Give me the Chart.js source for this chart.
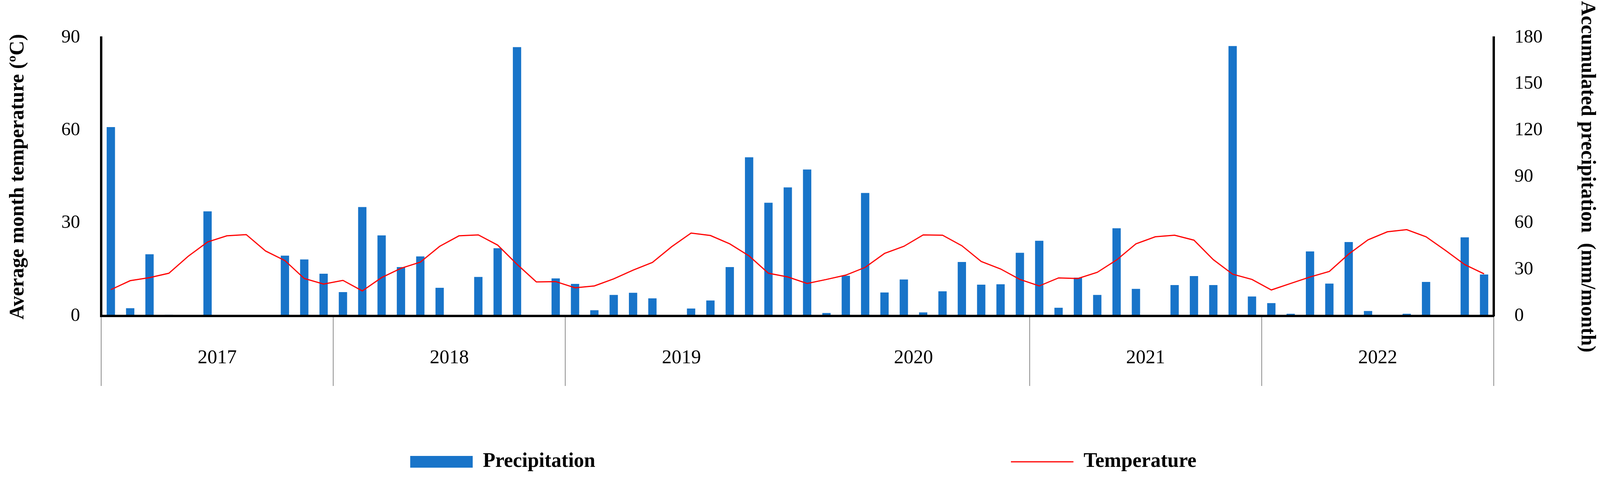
<!DOCTYPE html>
<html lang="en">
<head>
<meta charset="UTF-8">
<title>Monthly temperature and precipitation 2017-2022</title>
<script src="https://cdn.jsdelivr.net/npm/chart.js"></script>
<style>
  body { margin: 0; background: #fff; }
  #wrap { width: 4113px; height: 1248px; position: relative; }
</style>
</head>
<body>
<div id="wrap"><canvas id="climateChart"></canvas></div>
<script>
// categories
const years = ['2017', '2018', '2019', '2020', '2021', '2022'];
const months = ['Jan', 'Feb', 'Mar', 'Apr', 'May', 'Jun', 'Jul', 'Aug', 'Sep', 'Oct', 'Nov', 'Dec'];

// accumulated precipitation (mm/month), Jan 2017 .. Dec 2022
const precipitation = [
  122.1, 5.0, 39.9, 0.8, 0, 67.6, 0, 0.5, 0, 39.0, 36.5, 27.3,
  15.4, 70.4, 52.1, 31.6, 38.5, 18.2, 0, 25.2, 43.8, 173.8, 0, 24.3,
  20.7, 3.7, 13.6, 15.0, 11.4, 0, 4.8, 10.0, 31.6, 102.6, 73.2, 83.1,
  94.7, 1.9, 26.0, 79.5, 15.2, 23.6, 2.3, 15.9, 34.9, 20.2, 20.5, 40.8,
  48.6, 5.3, 24.8, 13.6, 56.7, 17.5, 0, 20.0, 25.8, 20.0, 174.5, 12.6,
  8.3, 1.4, 41.7, 20.9, 47.8, 3.2, 0.5, 1.4, 22.0, 0, 50.8, 26.8
];

// average month temperature (ºC)
const temperature = [
  8.5, 11.4, 12.4, 13.8, 19.3, 23.9, 25.9, 26.3, 21.0, 17.9, 12.1, 10.3,
  11.5, 8.1, 12.4, 15.4, 17.4, 22.5, 25.9, 26.2, 22.9, 16.7, 11.0, 11.1,
  9.1, 9.7, 12.0, 14.8, 17.3, 22.4, 26.8, 26.0, 23.3, 19.4, 13.8, 12.6,
  10.5, 11.8, 13.2, 15.7, 20.2, 22.5, 26.2, 26.1, 22.7, 17.6, 15.2, 11.8,
  9.7, 12.3, 12.1, 14.1, 18.1, 23.3, 25.6, 26.1, 24.5, 18.2, 13.5, 11.8,
  8.4, 10.5, 12.6, 14.4, 20.0, 24.6, 27.2, 27.9, 25.6, 21.2, 16.6, 13.6
];

const monthLabels = years.flatMap(y => months.map(m => m + ' ' + y));

const serif = "'Liberation Serif', 'Times New Roman', serif";
const barBlue = 'rgb(24, 116, 201)';
const lineRed = '#ff0000';
// blank legend entry that holds the two real entries apart
const legendGap = '\u2003'.repeat(16) + '\u2002';

Chart.defaults.font.family = serif;
Chart.defaults.color = '#000';

const ctx = document.getElementById('climateChart').getContext('2d');
new Chart(ctx, {
  data: {
    labels: monthLabels,
    datasets: [
      {
        type: 'bar',
        label: 'Precipitation',
        data: precipitation,
        backgroundColor: barBlue,
        borderWidth: 0,
        yAxisID: 'yP',
        categoryPercentage: 1,
        barPercentage: 0.43,
        order: 1
      },
      {
        type: 'line',
        label: 'Temperature',
        data: temperature,
        borderColor: lineRed,
        backgroundColor: lineRed,
        borderWidth: 3,
        pointRadius: 0,
        tension: 0,
        yAxisID: 'yT',
        order: 0
      }
    ]
  },
  options: {
    responsive: true,
    maintainAspectRatio: false,
    animation: false,
    layout: { padding: { top: 96, bottom: 31, left: 0, right: 0 } },
    plugins: {
      tooltip: { enabled: false },
      legend: {
        position: 'bottom',
        labels: {
          usePointStyle: true,
          pointStyleWidth: 160,
          boxHeight: 30,
          padding: 10,
          font: { size: 52, weight: 'bold', family: serif },
          generateLabels(chart) {
            const ds = chart.data.datasets;
            return [
              { text: ds[0].label, fillStyle: ds[0].backgroundColor, strokeStyle: ds[0].backgroundColor,
                lineWidth: 0, pointStyle: 'rect', fontColor: '#000', hidden: false, datasetIndex: 0 },
              { text: legendGap, fillStyle: 'rgba(0,0,0,0)', strokeStyle: 'rgba(0,0,0,0)',
                lineWidth: 0, pointStyle: 'rect', fontColor: '#000', hidden: false },
              { text: ds[1].label, fillStyle: ds[1].borderColor, strokeStyle: ds[1].borderColor,
                lineWidth: 3, pointStyle: 'line', fontColor: '#000', hidden: false, datasetIndex: 1 }
            ];
          }
        }
      }
    },
    scales: {
      x: {
        type: 'category',
        position: 'bottom',
        weight: 0,
        offset: true,
        grid: { display: false, drawTicks: false },
        border: { display: true, color: '#000', width: 6, z: 1 },
        ticks: { display: false }
      },
      xYear: {
        type: 'category',
        position: 'bottom',
        weight: 1,
        labels: years,
        offset: true,
        grid: {
          offset: true,
          drawOnChartArea: false,
          drawTicks: true,
          tickLength: 179,
          lineWidth: 2,
          color: c => (c.index === 3 ? 'rgba(0,0,0,0)' : '#8c8c8c')
        },
        border: { display: false },
        ticks: { font: { size: 50, family: serif }, color: '#000', padding: -101, maxRotation: 0, autoSkip: false },
        afterFit(scale) { scale.height = 337; }
      },
      yT: {
        type: 'linear',
        position: 'left',
        min: 0,
        max: 90,
        ticks: { stepSize: 30, font: { size: 48, family: serif }, color: '#000', padding: 54 },
        grid: { display: false, drawTicks: false },
        border: { display: true, color: '#000', width: 6, z: 1 },
        title: {
          display: true,
          text: 'Average month temperature (ºC)',
          color: '#000',
          font: { size: 52, weight: 'bold', family: serif },
          padding: { top: 15, bottom: 0 }
        },
        afterFit(scale) { scale.width = 259; }
      },
      yP: {
        type: 'linear',
        position: 'right',
        min: 0,
        max: 180,
        ticks: { stepSize: 30, font: { size: 48, family: serif }, color: '#000', padding: 53 },
        grid: { display: false, drawTicks: false },
        border: { display: true, color: '#000', width: 6, z: 1 },
        title: {
          display: true,
          text: 'Accumulated precipitation  (mm/month)',
          color: '#000',
          font: { size: 52, weight: 'bold', family: serif },
          padding: { top: 19, bottom: 0 }
        },
        afterFit(scale) { scale.width = 289; }
      }
    }
  }
});
</script>
</body>
</html>
